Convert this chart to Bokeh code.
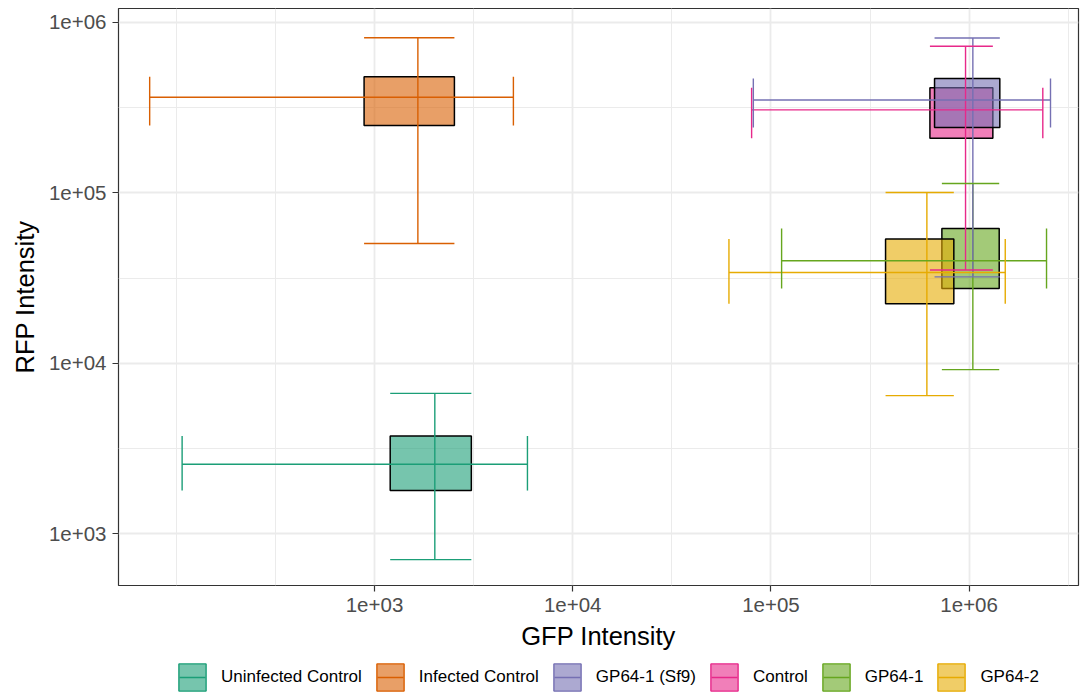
from bokeh.plotting import figure
from bokeh.layouts import column
from bokeh.core.properties import value
from bokeh.models import (ColumnDataSource, FixedTicker, CustomJSTickFormatter,
                          Legend, LegendItem, Range1d)
from bokeh.embed import file_html
from bokeh.resources import INLINE

# Sample groups (rows in data order) and their Dark2 colours
groups = ["Control", "GP64-1", "GP64-1 (Sf9)", "GP64-2",
          "Infected Control", "Uninfected Control"]
colors = ["#E7298A", "#66A61E", "#7570B3", "#E6AB02", "#D95F02", "#1B9E77"]

# order of the legend entries
legend_order = ["Uninfected Control", "Infected Control", "GP64-1 (Sf9)",
                "Control", "GP64-1", "GP64-2"]

# GFP intensity summary per group: median, quartiles, range
gfp_median = [959000, 1044000, 1044000, 612000, 1655, 2015]
gfp_q1 = [634000, 728500, 669000, 378700, 886, 1200]
gfp_q3 = [1317000, 1418000, 1428000, 837000, 2530, 3080]
gfp_low = [79900, 113200, 81500, 61400, 73.4, 107]
gfp_high = [2353000, 2457000, 2573000, 1521000, 5020, 5910]

# RFP intensity summary per group: median, quartiles, range
rfp_median = [307000, 40000, 351000, 34150, 364000, 2560]
rfp_q1 = [209500, 27500, 241800, 22400, 248500, 1795]
rfp_q3 = [414800, 61900, 468500, 53600, 481000, 3750]
rfp_low = [35300, 9190, 32200, 6470, 50500, 706]
rfp_high = [725000, 113500, 811000, 100500, 814000, 6670]

# Axis breaks
x_ticks = [1e3, 1e4, 1e5, 1e6]
y_ticks = [1e3, 1e4, 1e5, 1e6]
x_minor = [10 ** k for k in (2.0, 2.5, 3.5, 4.5, 5.5, 6.5)]
y_minor = [10 ** k for k in (2.5, 3.5, 4.5, 5.5, 6.5)]

FONT = "Liberation Sans"
NAN = float("nan")

src = ColumnDataSource(dict(
    group=groups, color=colors,
    gx=gfp_median, gq1=gfp_q1, gq3=gfp_q3, glo=gfp_low, ghi=gfp_high,
    ry=rfp_median, rq1=rfp_q1, rq3=rfp_q3, rlo=rfp_low, rhi=rfp_high,
))

p = figure(width=1080, height=652, x_axis_type="log", y_axis_type="log",
           x_range=Range1d(51.1, 3.562e6), y_range=Range1d(497.7, 1.208e6),
           output_backend="svg", toolbar_location=None,
           min_border_left=118, min_border_right=2, min_border_top=8,
           min_border_bottom=67)

p.background_fill_color = "white"
p.border_fill_color = "white"
p.outline_line_color = "#333333"
p.outline_line_width = 1.2

# interquartile boxes
p.quad(left="gq1", right="gq3", bottom="rq1", top="rq3", source=src,
       fill_color="color", fill_alpha=0.6, line_color="black", line_width=1.5)

# vertical error bars (RFP range)
seg = dict(source=src, line_color="color", line_width=1.4)
p.segment(x0="gx", y0="rlo", x1="gx", y1="rhi", **seg)
p.segment(x0="gq1", y0="rhi", x1="gq3", y1="rhi", **seg)
p.segment(x0="gq1", y0="rlo", x1="gq3", y1="rlo", **seg)

# horizontal error bars (GFP range)
p.segment(x0="glo", y0="ry", x1="ghi", y1="ry", **seg)
p.segment(x0="glo", y0="rq1", x1="glo", y1="rq3", **seg)
p.segment(x0="ghi", y0="rq1", x1="ghi", y1="rq3", **seg)

# axes
fmt = CustomJSTickFormatter(code="""
const s = tick.toExponential(0);
return s.replace(/e\\+(\\d)$/, "e+0$1");
""")
for ax, ticks, minor, label in ((p.xaxis[0], x_ticks, x_minor, "GFP Intensity"),
                                (p.yaxis[0], y_ticks, y_minor, "RFP Intensity")):
    ax.ticker = FixedTicker(ticks=ticks, minor_ticks=minor)
    ax.formatter = fmt
    ax.axis_label = label
    ax.axis_label_text_font = FONT
    ax.axis_label_text_font_size = "25.5px"
    ax.axis_label_text_font_style = "normal"
    ax.axis_label_text_color = "black"
    ax.major_label_text_font = FONT
    ax.major_label_text_font_size = "20.5px"
    ax.major_label_text_color = "#4D4D4D"
    ax.axis_line_color = None
    ax.major_tick_line_color = "#333333"
    ax.major_tick_line_width = 1.2
    ax.major_tick_out = 6
    ax.major_tick_in = 0
    ax.minor_tick_line_color = None
p.xaxis[0].major_label_standoff = 6
p.xaxis[0].axis_label_standoff = 7
p.yaxis[0].major_label_standoff = 6
p.yaxis[0].axis_label_standoff = 7

for g in (p.xgrid[0], p.ygrid[0]):
    g.grid_line_color = "#EBEBEB"
    g.grid_line_width = 1.8
    g.minor_grid_line_color = "#EBEBEB"
    g.minor_grid_line_width = 1.0

# legend strip underneath the plot (its frame lines up with the plot frame)
leg = figure(width=1080, height=40, output_backend="svg", toolbar_location=None,
             x_range=Range1d(0, 1), y_range=Range1d(0, 1),
             x_axis_location=None, y_axis_location=None, min_border=0)
leg.outline_line_color = None
leg.xgrid.visible = False
leg.ygrid.visible = False

# legend keys: translucent box with coloured border plus error-bar stroke
# (one undrawable NaN row each, so only the legend shows them); the dash
# pattern keeps the stroke inside the key box
color_of = dict(zip(groups, colors))
items = []
for name in legend_order:
    c = color_of[name]
    key_box = leg.quad(left=[NAN], right=[NAN], bottom=[NAN], top=[NAN],
                       fill_color=c, fill_alpha=0.6, line_color=c, line_width=1.4)
    key_line = leg.segment(x0=[NAN], y0=[NAN], x1=[NAN], y1=[NAN],
                           line_color=c, line_width=1.4,
                           line_dash=value("0 4 26 20"))
    items.append(LegendItem(label=name, renderers=[key_box, key_line]))

legend = Legend(items=items, orientation="horizontal", location=(57, -2),
                glyph_width=34, glyph_height=34, label_standoff=12, spacing=11,
                label_text_font=FONT, label_text_font_size="17px",
                label_text_color="black", padding=0, margin=0,
                border_line_color=None, background_fill_alpha=0)
leg.add_layout(legend, "center")

open("out.html", "w").write(file_html(column(p, leg, spacing=0), INLINE))
